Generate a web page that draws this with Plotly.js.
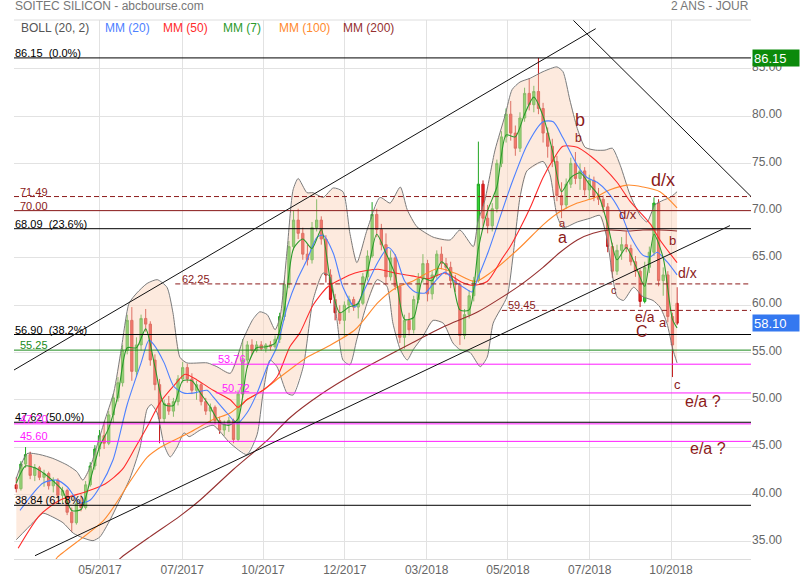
<!DOCTYPE html>
<html><head><meta charset="utf-8">
<script src="https://cdn.plot.ly/plotly-3.0.1.min.js"></script>
<style>html,body{margin:0;padding:0;background:#fff;}#chart{width:800px;height:580px;}</style>
</head><body><div id="chart"></div>
<script>
// ---------- DATA ----------
const tickLabels = ['05/2017','07/2017','10/2017','12/2017','03/2018','05/2018','07/2018','10/2018'];
const tickPos = [18.1, 35.9, 53.4, 71.1, 88.8, 106.4, 124.1, 141.7];

const openP = [41.0,40.6,43.2,44.2,42.0,42.8,41.8,42.2,40.9,41.5,
39.9,40.4,38.1,37.0,39.0,38.6,41.0,43.0,44.8,46.2,
45.4,48.4,50.2,51.8,55.2,58.4,53.0,55.8,58.6,58.0,
54.2,51.6,48.0,49.6,48.8,49.8,52.2,53.4,52.2,51.0,
51.6,49.8,48.8,49.2,47.8,46.8,47.4,47.8,45.8,50.6,
54.2,55.8,55.2,55.8,55.4,55.8,55.6,56.4,58.8,62.2,
66.2,69.0,67.6,65.4,64.8,68.2,69.0,67.0,63.2,60.6,
59.2,58.4,60.0,60.6,59.8,60.2,63.0,65.2,69.6,68.0,
66.4,63.0,65.0,62.0,56.6,58.4,57.4,60.6,62.8,64.4,
61.2,63.2,65.4,64.4,64.0,62.6,62.2,56.8,59.0,61.0,
62.6,72.8,69.2,68.4,70.2,75.0,77.8,80.2,78.2,76.6,
79.8,82.4,81.2,82.6,80.8,78.2,76.8,75.2,71.6,70.6,
72.8,75.0,73.4,74.2,72.2,73.2,71.6,71.2,70.4,66.2,
63.6,65.8,66.4,66.0,64.6,63.6,60.4,64.0,65.6,70.8,
62.6,63.2,58.8,60.2];
const highP = [41.8,43.5,45.0,44.5,43.2,43.0,42.6,42.4,41.8,41.7,
40.8,40.6,38.6,39.4,40.0,41.4,43.4,45.2,46.8,47.6,
48.8,50.6,52.4,55.8,59.0,59.8,56.6,59.0,59.6,58.3,
54.8,52.2,50.0,50.4,50.2,52.6,54.0,53.8,52.8,52.0,
51.8,50.2,49.6,49.4,48.2,47.8,48.2,48.0,51.0,56.4,
56.2,56.4,56.2,56.2,56.0,56.2,56.8,59.2,62.6,66.8,
70.0,70.2,68.2,66.4,68.8,71.2,69.4,67.4,63.8,61.2,
60.0,60.4,61.0,60.9,60.4,63.4,65.8,70.9,70.2,68.6,
67.6,65.8,65.4,62.2,59.0,59.2,61.0,63.4,65.4,64.8,
63.6,65.8,66.2,65.0,64.6,63.2,62.4,59.6,61.6,63.0,
77.3,73.2,70.6,70.8,75.4,78.4,80.8,81.6,79.0,80.4,
83.0,84.0,83.2,86.15,81.4,78.8,77.6,75.8,73.0,73.4,
75.6,76.2,75.0,74.6,73.8,73.6,72.4,71.6,70.8,66.6,
66.4,67.2,67.8,66.4,65.2,63.8,64.6,66.2,71.4,71.2,
64.0,63.6,59.2,61.9];
const lowP = [40.2,40.4,42.8,41.6,41.4,41.5,40.8,40.5,40.2,39.6,
39.0,37.8,36.0,36.8,38.2,38.4,40.8,42.6,44.0,44.8,
45.2,47.6,49.8,51.4,54.8,52.0,52.4,55.2,57.2,53.6,
51.0,45.4,47.6,48.4,48.2,49.4,51.8,51.8,50.6,50.0,
49.4,48.4,47.6,47.4,46.4,46.2,46.6,45.4,45.6,50.2,
53.4,54.8,55.0,55.2,55.0,55.2,55.4,56.0,58.4,61.8,
65.8,67.0,64.8,64.2,64.4,67.8,66.4,62.4,60.2,58.4,
58.0,56.6,59.2,59.4,58.6,60.0,62.6,65.0,67.2,65.8,
62.2,62.6,61.6,56.0,55.4,56.8,57.0,60.2,62.4,60.4,
60.6,62.8,63.8,63.2,61.8,61.4,55.8,56.4,58.6,60.4,
62.4,68.4,67.6,67.8,69.8,74.6,77.2,77.4,75.8,76.2,
79.4,80.6,80.4,80.2,77.2,75.6,74.6,71.0,69.2,70.2,
72.4,72.8,72.2,71.6,71.2,71.0,70.6,69.8,65.6,62.9,
63.2,64.8,65.6,64.2,63.0,59.8,60.2,63.4,65.2,62.0,
61.0,58.2,52.4,57.9];
const closeP = [40.6,43.2,44.2,42.0,42.8,41.8,42.2,40.9,41.5,39.9,
40.4,38.1,37.0,39.0,38.6,41.0,43.0,44.8,46.2,45.4,
48.4,50.2,51.8,55.2,58.4,53.0,55.8,58.6,58.0,54.2,
51.6,48.0,49.6,48.8,49.8,52.2,53.4,52.2,51.0,51.6,
49.8,48.8,49.2,47.8,46.8,47.4,47.8,45.8,50.6,54.2,
55.8,55.2,55.8,55.4,55.8,55.6,56.4,58.8,62.2,66.2,
69.0,67.6,65.4,64.8,68.2,69.0,67.0,63.2,60.6,59.2,
58.4,60.0,60.6,59.8,60.2,63.0,65.2,69.6,68.0,66.4,
63.0,65.0,62.0,56.6,58.4,57.4,60.6,62.8,64.4,61.2,
63.2,65.4,64.4,64.0,62.6,62.2,56.8,59.0,61.0,62.6,
72.8,69.2,68.4,70.2,75.0,77.8,80.2,78.2,76.6,79.8,
82.4,81.2,82.6,80.8,78.2,76.8,75.2,71.6,70.6,72.8,
75.0,73.4,74.2,72.2,73.2,71.6,71.2,70.4,66.2,63.6,
65.8,66.4,66.0,64.6,63.6,60.4,64.0,65.6,70.8,62.6,
63.2,58.8,55.8,58.1];

// Moving averages (sampled along the candle index)
const ma7K = [0,2,4,6,8,10,12,14,16,18,20,22,24,26,28,30,32,34,36,38,40,42,44,46,48,50,52,54,56,58,60,62,64,66,68,70,72,74,76,78,80,82,84,86,88,90,92,94,96,98,100,102,104,106,108,110,112,114,116,118,120,122,124,126,128,130,132,134,136,138,140,142,143];
const ma7V = [41.2,43.0,42.8,42.2,41.4,40.4,38.3,38.4,41.5,45.0,47.0,50.5,55.5,55.5,57.5,53.5,49.5,49.4,52.0,52.0,50.6,49.2,47.6,47.3,48.0,53.5,55.5,55.6,56.0,59.5,66.0,67.0,66.0,68.0,62.5,59.2,59.8,60.2,63.5,67.5,65.5,63.2,58.5,58.7,62.8,62.6,64.6,63.4,59.5,59.5,66.0,70.0,72.5,78.0,77.8,80.2,82.0,80.0,76.4,72.0,73.5,74.0,72.8,71.6,68.5,64.8,66.1,64.2,62.0,67.5,65.0,58.5,57.6];

const ma20K = [0.8,5.8,8.8,11.0,13.8,16.0,18.1,20.9,24.0,27.0,28.7,29.8,32.0,34.1,36.3,38.2,41.3,42.6,45.6,47.8,49.9,52.1,54.3,56.4,58.6,60.8,62.9,65.1,66.4,68.6,70.7,73.3,75.5,78.3,80.5,82.0,84.1,86.3,88.5,90.6,92.8,94.9,97.1,98.6,99.9,102.1,105.1,107.3,110.5,114.0,116.2,118.3,121.4,123.5,125.7,127.9,130.7,132.8,135.6,137.2,138.7,140.8,143.0];
const ma20V = [38.3,41.2,41.5,40.8,39.1,39.4,40.8,43.6,49.5,53.9,56.3,55.8,53.9,51.4,50.7,50.7,51.0,50.3,48.6,47.5,48.6,50.7,53.5,55.6,59.8,62.7,64.8,67.2,67.4,65.5,61.9,59.8,61.8,64.6,66.1,65.3,62.5,61.4,61.3,62.5,63.5,62.5,61.8,61.4,62.9,65.6,69.9,73.0,76.9,79.4,79.4,77.7,74.8,73.5,73.0,72.0,69.9,67.4,65.3,65.1,65.6,64.6,63.2];

const ma50K = [0.4,5.1,9.5,14.9,19.2,22.9,25.7,28.5,31.1,34.3,36.5,39.1,42.6,46.3,48.0,49.9,53.4,56.4,59.2,61.4,64.2,67.3,70.1,73.3,78.3,82.0,85.6,89.1,92.8,96.5,98.9,101.9,105.1,106.9,109.0,111.2,114.0,116.2,118.3,121.4,124.2,127.0,130.0,132.8,135.6,137.2,139.3,143.0];
const ma50V = [34.3,37.8,39.4,40.25,41.1,42.6,44.9,47.3,49.7,51.6,52.7,52.1,51.0,50.0,49.2,50.0,51.0,52.4,55.6,57.1,60.0,61.9,62.7,63.4,63.8,63.4,63.1,62.8,63.4,62.4,62.1,62.5,64.9,66.2,68.1,70.3,73.5,75.4,76.8,76.7,75.8,74.6,73.0,71.0,69.5,68.6,66.9,64.5];

const ma100K = [8.4,9.0,19.0,24.8,28.3,31.3,37.4,42.6,46.3,49.9,53.4,57.1,62.9,67.3,73.3,78.3,82.0,85.6,91.3,94.9,99.3,102.8,109.0,114.0,117.7,121.4,124.8,128.5,132.2,135.6,139.3,143.0];
const ma100V = [33.0,33.4,37.3,41.5,43.9,45.0,46.5,47.9,48.6,50.0,51.0,52.4,54.5,55.6,57.4,60.3,61.8,62.5,63.9,63.4,62.5,63.5,66.1,68.5,69.9,70.8,71.3,72.2,72.7,72.5,72.0,70.3];

const ma200K = [22.0,22.9,28.9,35.4,39.8,46.9,54.3,59.2,65.7,73.3,85.6,92.8,99.9,109.0,114.0,117.7,121.4,124.8,128.5,132.2,135.6,139.3,143.0];
const ma200V = [33.0,33.4,35.5,37.7,39.4,42.6,45.7,48.1,50.5,52.8,56.0,57.8,59.3,62.1,64.0,65.6,66.9,67.6,67.95,67.85,67.95,67.95,67.85];

// Bollinger (20, 2)
const bbUpK = [0,2.3,5.1,7.9,11.0,13.1,14.4,16.0,17.5,19.0,21.1,22.7,24.4,26.1,28.3,30.5,32.6,33.9,35.4,36.9,41.3,43.4,46.3,49.1,51.2,52.7,54.3,56.0,57.1,58.6,59.9,61.0,62.9,64.2,66.4,68.6,70.7,72.2,73.7,75.9,78.7,80.9,83.1,84.6,86.7,90.2,93.9,96.0,98.9,99.9,101.4,103.6,105.8,107.3,109.0,111.2,114.0,117.0,118.3,119.8,121.4,123.1,125.3,127.4,129.0,130.7,132.8,135.0,136.5,138.2,140.0,141.5,143.0];
const bbUpV = [41.7,44.3,44.2,43.8,43.1,42.4,41.5,42.9,45.2,47.6,50.8,55.3,60.2,61.3,62.3,62.7,61.9,59.2,54.5,53.9,53.9,53.5,52.8,56.4,58.5,59.3,59.0,57.4,58.8,65.8,72.2,73.4,71.9,71.9,71.4,72.4,72.0,67.6,64.5,67.95,71.4,70.8,72.5,70.1,68.3,67.2,66.9,67.95,66.2,68.8,71.1,76.4,80.1,82.8,83.6,84.0,84.7,85.2,84.7,81.7,78.7,76.7,76.4,76.4,76.6,74.8,71.7,69.5,68.8,70.6,71.1,71.4,72.0];
const bbLoK = [0,3.6,5.8,7.9,10.1,12.3,14.4,16.6,18.1,20.3,22.4,24.6,26.8,28.3,29.2,30.5,32.0,33.3,34.8,36.3,37.4,39.8,42.6,46.3,49.9,52.1,53.4,54.9,56.4,58.6,59.9,62.1,64.2,66.4,67.9,69.4,70.7,72.2,73.7,75.9,78.1,80.2,81.5,83.1,84.6,85.9,88.0,90.2,92.4,94.5,96.0,98.2,100.4,101.9,103.2,106.2,107.5,109.0,110.5,114.0,115.5,117.0,118.3,121.4,124.2,126.3,127.9,129.0,130.0,131.4,133.6,135.6,137.8,139.3,140.8,142.1,143.0];
const bbLoV = [35.2,37.0,38.0,37.6,37.0,35.9,35.4,35.1,35.5,37.3,39.4,41.7,45.0,49.0,49.5,48.6,45.2,43.95,45.0,46.5,46.1,46.8,47.3,45.4,44.2,46.3,50.7,54.2,53.5,50.7,50.5,53.5,60.5,63.4,63.0,58.4,54.2,53.7,56.4,60.2,62.7,62.0,58.1,55.3,54.2,55.3,56.7,58.4,58.1,56.0,55.3,55.0,53.5,54.5,58.1,60.9,65.2,71.4,74.2,75.2,73.8,69.5,68.2,68.8,69.2,69.5,66.9,63.2,60.9,60.5,61.9,60.9,60.5,59.8,58.1,55.3,53.9];

// Horizontal levels
const levelValues = [86.15, 71.49, 70.00, 68.09, 62.25, 59.45, 56.90, 55.25, 53.76, 50.72, 47.62, 47.45, 45.60, 38.84];
const levelLabels = ['86.15&nbsp; (0.0%)','71.49','70.00','68.09&nbsp; (23.6%)','62.25','59.45','56.90&nbsp; (38.2%)','55.25','53.76','50.72','47.62 (50.0%)','47.20','45.60','38.84 (61.8%)'];
const levelStartK = [null, null, null, null, 34.4, 105.1, null, null, 42.4, 43.2, null, null, null, null];

const lastPrice = 58.10;
const highPrice = 86.15;
const yTicks = [35, 40, 45, 50, 55, 60, 65, 70, 75, 80, 85];

// ---------- STYLE ----------
const DR = '#8b1a1a', MAG = '#ff1aff', GRN = '#1a8a1a', BLK = '#000000';
const levelStyle = [
 {c:BLK,d:'solid',lx:0},{c:DR,d:'5px,3px',lx:5},{c:DR,d:'solid',lx:5},{c:BLK,d:'solid',lx:0},
 {c:DR,d:'5px,3px',lx:6},{c:DR,d:'5px,3px',lx:5},{c:BLK,d:'solid',lx:0},{c:GRN,d:'solid',lx:5},
 {c:MAG,d:'solid',lx:5},{c:MAG,d:'solid',lx:5},{c:BLK,d:'solid',lx:0},{c:MAG,d:'solid',lx:5},
 {c:MAG,d:'solid',lx:5},{c:BLK,d:'solid',lx:0}
];

const W = 800, H = 580;
const M = {l:14, r:49, t:20, b:21};
const PW = W - M.l - M.r, PH = H - M.t - M.b;
const XR = [-0.5, 159.0], YR = [33.16, 90.16];
const pxX = p => (p - M.l) / PW;
const pxY = p => 1 - (p - M.t) / PH;
const kToPx = k => M.l + (k - XR[0]) / (XR[1] - XR[0]) * PW;

const idx = closeP.map((_, i) => i);

const traces = [];
// Bollinger fill
traces.push({
  type:'scatter', mode:'lines', x: bbUpK.concat(bbLoK.slice().reverse()),
  y: bbUpV.concat(bbLoV.slice().reverse()), fill:'toself',
  fillcolor:'rgba(250,212,186,0.48)', line:{width:0, color:'rgba(0,0,0,0)'}, hoverinfo:'skip'
});
traces.push({type:'scatter', mode:'lines', x:bbUpK, y:bbUpV, line:{color:'#7a7a7a', width:1, shape:'spline', smoothing:0.6}, hoverinfo:'skip'});
traces.push({type:'scatter', mode:'lines', x:bbLoK, y:bbLoV, line:{color:'#7a7a7a', width:1, shape:'spline', smoothing:0.6}, hoverinfo:'skip'});
// Candles
traces.push({
  type:'candlestick', x: idx, open: openP, high: highP, low: lowP, close: closeP,
  increasing:{line:{color:'#22a522', width:1}, fillcolor:'#33d633'},
  decreasing:{line:{color:'#c21717', width:1}, fillcolor:'#ee2222'},
  whiskerwidth:0, hoverinfo:'skip'
});
// MAs
const maDefs = [
  [ma200K, ma200V, '#963030'],
  [ma100K, ma100V, '#ff8a2e'],
  [ma50K, ma50V, '#ff2b2b'],
  [ma20K, ma20V, '#4d80ff'],
  [ma7K, ma7V, '#2b9a2b']
];
maDefs.forEach(([k, v, c]) => traces.push({type:'scatter', mode:'lines', x:k, y:v, line:{color:c, width:1.1, shape:'spline', smoothing:0.7}, hoverinfo:'skip'}));

// Shapes
const shapes = [];
levelValues.forEach((v, i) => {
  const s = levelStyle[i];
  const x0 = levelStartK[i] === null ? XR[0] : levelStartK[i];
  shapes.push({type:'line', xref:'x', yref:'y', x0:x0, x1:XR[1], y0:v, y1:v, line:{color:s.c, width:1, dash:s.d}});
});
// trend lines
[[14,370,595.7,28.7],[35,555.7,730,225.6],[573,20,751,196.5]].forEach(l => {
  shapes.push({type:'line', xref:'paper', yref:'paper', x0:pxX(l[0]), y0:pxY(l[1]), x1:pxX(l[2]), y1:pxY(l[3]), line:{color:'#111', width:1}});
});
// top border
shapes.push({type:'line', xref:'paper', yref:'paper', x0:0, x1:1, y0:1, y1:1, line:{color:'#dedede', width:1}});

// Annotations
const ann = [];
levelValues.forEach((v, i) => {
  const s = levelStyle[i];
  const startPx = levelStartK[i] === null ? M.l : kToPx(levelStartK[i]);
  ann.push({xref:'paper', yref:'y', x:pxX(startPx), y:v, xanchor:'left', yanchor:'bottom', xshift:s.lx - 1, yshift:-3,
    text:levelLabels[i], showarrow:false, font:{size:11, color:s.c}});
});
// header
ann.push({xref:'paper', yref:'paper', x:0, y:1, xanchor:'left', yanchor:'bottom', yshift:5, xshift:-1, text:'SOITEC SILICON - abcbourse.com', showarrow:false, font:{size:12, color:'#777'}});
ann.push({xref:'paper', yref:'paper', x:1, y:1, xanchor:'right', yanchor:'bottom', yshift:5, text:'2 ANS - JOUR', showarrow:false, font:{size:12, color:'#777'}});
const legendItems = [['BOLL (20, 2)','#555',20],['MM (20)','#4d80ff',104],['MM (50)','#ff2b2b',162],['MM (7)','#2b9a2b',222],['MM (100)','#ff8a2e',278],['MM (200)','#963030',342]];
legendItems.forEach(([t, c, x]) => ann.push({xref:'paper', yref:'paper', x:pxX(x), y:pxY(28), xanchor:'left', yanchor:'middle', xshift:-1, text:t, showarrow:false, font:{size:12, color:c}}));
// price boxes
[[highPrice,'#0b8a0b'],[lastPrice,'#3478f0']].forEach(([v, c]) => ann.push({xref:'paper', yref:'y', x:1, y:v, xanchor:'left', yanchor:'middle', xshift:1,
  text:v.toFixed(2), showarrow:false, bgcolor:c, font:{size:13, color:'#fff'}, width:44, height:14, align:'left', borderpad:1}));
// wave labels
const waves = [['b',580,120,18],['b',578,138,12],['a',562,223,11],['a',562,238,16],['d/x',663,180,18],['d/x',628,214,13],['b',672,241,13],['d/x',687,273,14],['c',614,290,11],['e/a',645,317,14],['C',642,331,16],['a',663,322,13],['c',677,384,13],['e/a ?',703,401,16],['e/a ?',708,448,16]];
waves.forEach(([t, x, y, s]) => ann.push({xref:'paper', yref:'paper', x:pxX(x), y:pxY(y), xanchor:'center', yanchor:'middle', text:t, showarrow:false, font:{size:s, color:DR}}));

const layout = {
  width:W, height:H, margin:M, paper_bgcolor:'#fff', plot_bgcolor:'#fff', showlegend:false, hovermode:false,
  font:{family:'"Liberation Sans", Arial, sans-serif', size:12, color:'#666'},
  xaxis:{range:XR, tickmode:'array', tickvals:tickPos, ticktext:tickLabels, showgrid:true, gridcolor:'#e2e2e2', gridwidth:1,
    zeroline:false, showline:true, linecolor:'#dcdcdc', ticks:'', tickfont:{size:12, color:'#666'}, rangeslider:{visible:false}, fixedrange:true},
  yaxis:{side:'right', range:YR, tickmode:'array', tickvals:yTicks, ticktext:yTicks.map(v => v.toFixed(2)), showgrid:true, gridcolor:'#e2e2e2',
    zeroline:false, showline:false, ticks:'', tickfont:{size:12, color:'#666'}, ticklabelshift:-2, fixedrange:true},
  shapes:shapes, annotations:ann
};
Plotly.newPlot('chart', traces, layout, {staticPlot:true, displayModeBar:false});
</script></body></html>
